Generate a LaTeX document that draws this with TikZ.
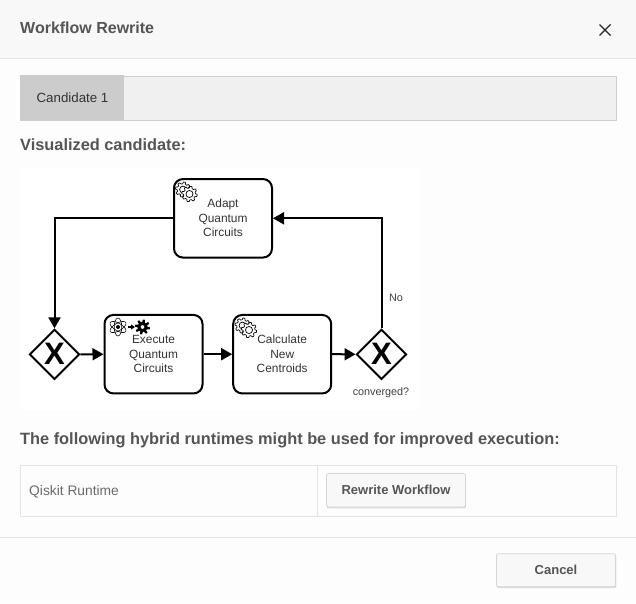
\documentclass[tikz,border=0pt]{standalone}
\usepackage{fontspec}
\setmainfont{Liberation Sans}
\usetikzlibrary{arrows.meta,shapes.geometric}
\definecolor{headbg}{HTML}{F8F8F8}
\definecolor{bodybg}{HTML}{FDFDFD}
\definecolor{rulec}{HTML}{E4E4E4}
\definecolor{tabbar}{HTML}{F0F0F0}
\definecolor{tabon}{HTML}{CCCCCC}
\definecolor{tabline}{HTML}{CFCFCF}
\definecolor{inkc}{HTML}{555555}
\definecolor{btnbg}{HTML}{F8F8F8}
\definecolor{btnline}{HTML}{D6D6D6}
\newcommand{\fs}[1]{\fontsize{#1}{#1}\selectfont}
\tikzset{
  flowtask/.style={draw=black,line width=2pt,rounded corners=9pt,fill=white,minimum width=98pt,minimum height=78.5pt,inner sep=0pt},
  tasktext/.style={align=center,font=\fs{11.9},text=black!80,inner sep=0pt},
  xgate/.style={diamond,draw=black,line width=1.9pt,fill=white,minimum width=50pt,minimum height=50pt,inner sep=0pt,aspect=1},
  xmark/.style={font=\bfseries\fs{31},text=black,inner sep=0pt},
  flow/.style={line width=2pt,-{Triangle[length=11pt,width=12pt]}},
  small/.style={font=\fs{10.8},text=black!75,inner sep=0pt},
  heading/.style={font=\bfseries\fs{16.35},text=inkc,anchor=base west,inner sep=0pt},
  plain/.style={font=\fs{13.8},text=black!58,inner sep=0pt},
  btn/.style={draw=btnline,fill=btnbg,rounded corners=2pt,line width=.8pt,inner sep=0pt,font=\bfseries\fs{13},text=inkc},
  softshadow/.style={fill=black!14,rounded corners=2pt},
}
\newcommand{\gearat}[3]{% x, y, radius
  \draw[line width=.7pt,fill=white,line join=round]
    plot[samples=121,domain=0:360] ({#1+(#3+.9*max(min(2.2*sin(8*\x),1),-1))*cos(\x)},{#2+(#3+.9*max(min(2.2*sin(8*\x),1),-1))*sin(\x)}) -- cycle;
  \draw[line width=.7pt,fill=white] (#1,#2) circle[radius=#3*.52];
}
\begin{document}
\begin{tikzpicture}[x=1pt,y=-1pt]
\useasboundingbox (0,0) rectangle (636,603);
\fill[bodybg] (0,0) rectangle (636,603);
\fill[headbg] (0,0) rectangle (636,58.5);
\draw[rulec,line width=1pt] (0,58.5) -- (636,58.5);
\draw[rulec,line width=1pt] (0,537.5) -- (636,537.5);
\node[heading,font=\bfseries\fs{16}] (title) at (20,33.5) {Workflow Rewrite};
\coordinate (xa) at (599.5,24.5); \coordinate (xb) at (610.5,35.5);
\coordinate (xc) at (599.5,35.5); \coordinate (xd) at (610.5,24.5);
\draw[black!85,line width=1.1pt] (xa) -- (xb) (xc) -- (xd);
% tab bar
\node[draw=tabline,fill=tabbar,line width=1pt,minimum width=595.5pt,minimum height=44pt,anchor=north west,inner sep=0pt] (bar) at (20,75.5) {};
\node[fill=tabon,minimum width=104pt,minimum height=45pt,anchor=north west,inner sep=0pt] (tab) at (20,75) {};
\node[font=\fs{13.3},text=black!80,inner sep=0pt] (tabtext) at (72.5,97.5) {Candidate 1};
\node[heading] (vis) at (20,150.5) {Visualized candidate:};
% diagram
\fill[white] (20,169) rectangle (420,410);
\node[flowtask] (adapt) at (223,218.3) {};
\node[flowtask] (exec) at (153.5,354.2) {};
\node[flowtask] (calc) at (282.2,354.2) {};
\node[tasktext] (adaptt) at (223,218) {Adapt\\[2.5pt]Quantum\\[2.5pt]Circuits};
\node[tasktext] (exect) at (153.5,354) {Execute\\[2.5pt]Quantum\\[2.5pt]Circuits};
\node[tasktext] (calct) at (282.2,354) {Calculate\\[2.5pt]New\\[2.5pt]Centroids};
\node[xgate] (g1) at (54.5,354.3) {};
\node[xgate] (g2) at (381.5,354.3) {};
\node[xmark] (g1x) at (54.5,354.3) {X};
\node[xmark] (g2x) at (381.5,354.3) {X};
\coordinate (corner1) at (g1 |- adapt);
\coordinate (corner2) at (g2 |- adapt);
\draw[flow] (adapt.west) -- (corner1) -- (g1.north);
\draw[flow] (g1.east) -- (exec.west);
\draw[flow] (exec.east) -- (calc.west);
\draw[flow] (calc.east) -- (g2.west);
\draw[flow] (g2.north) -- (corner2) -- (adapt.east);
\node[small] (no) at (396,297.5) {No};
\node[small] (conv) at (381,392.5) {converged?};
% gears
\gearat{183}{189.5}{6.6}
\gearat{189.5}{194}{6.8}
\gearat{242.5}{325.5}{6.6}
\gearat{249}{330}{6.8}
% execute icons
\begin{scope}[line width=.6pt]
\foreach \a in {30,90,150}{\draw (118,327) ellipse[x radius=9,y radius=3.8,rotate=\a];}
\fill (118,327) circle[radius=2];
\end{scope}
\coordinate (miniA) at (128,327); \coordinate (miniB) at (135,327);
\draw[line width=1.3pt,-{Triangle[length=4pt,width=5pt]}] (miniA) -- (miniB);
\fill[black,even odd rule] plot[samples=121,domain=0:360] ({142.5+(6.2+1.3*max(min(2.2*sin(8*\x),1),-1))*cos(\x)},{327+(6.2+1.3*max(min(2.2*sin(8*\x),1),-1))*sin(\x)}) -- cycle (142.5,327) circle[radius=2];
% runtimes
\node[heading] (hyb) at (20,444) {The following hybrid runtimes might be used for improved execution:};
\node[draw=rulec,line width=1pt,minimum width=595.5pt,minimum height=51.5pt,anchor=north west,inner sep=0pt] (tbl) at (20,464.5) {};
\coordinate (divtop) at (317.5,464.5); \coordinate (divbot) at (317.5,516);
\draw[rulec,line width=1pt] (divtop) -- (divbot);
\node[plain,anchor=base west] (qis) at (29,495) {Qiskit Runtime};
\fill[softshadow] (326.5,474.5) rectangle (466,508.3);
\node[btn,minimum width=139pt,minimum height=33.5pt] (rw) at (396,490.2) {Rewrite Workflow};
\fill[softshadow] (496.5,555) rectangle (616.3,588);
\node[btn,minimum width=119pt,minimum height=33pt] (cancel) at (556,570.2) {Cancel};
\end{tikzpicture}
\end{document}
